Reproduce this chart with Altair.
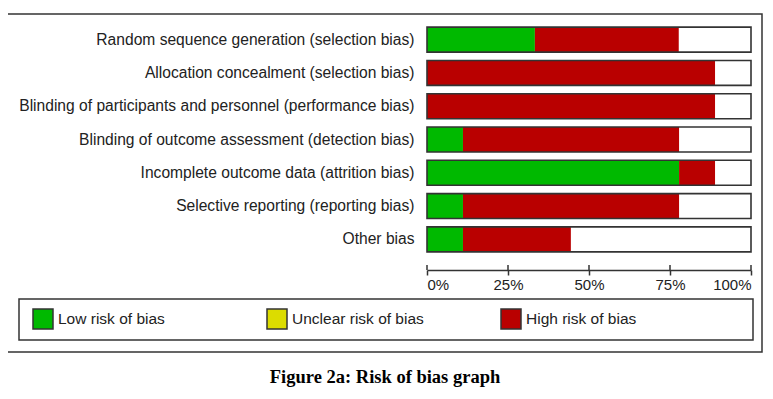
import altair as alt
import pandas as pd

domains = [
    "Random sequence generation (selection bias)",
    "Allocation concealment (selection bias)",
    "Blinding of participants and personnel (performance bias)",
    "Blinding of outcome assessment (detection bias)",
    "Incomplete outcome data (attrition bias)",
    "Selective reporting (reporting bias)",
    "Other bias",
]
judgements = ["Low risk of bias", "Unclear risk of bias", "High risk of bias"]
colors = ["#00B900", "#DCDC00", "#B90000"]
low_pct = [33.3, 0, 0, 11.1, 77.8, 11.1, 11.1]
unclear_pct = [0, 0, 0, 0, 0, 0, 0]
high_pct = [44.4, 88.9, 88.9, 66.7, 11.1, 66.7, 33.3]
tick_values = [0, 25, 50, 75, 100]
fig_title = "Figure 2a: Risk of bias graph"

rows = []
for d, lo, un, hi in zip(domains, low_pct, unclear_pct, high_pct):
    for k, (j, v) in enumerate(zip(judgements, [lo, un, hi])):
        rows.append({"domain": d, "judgement": j, "value": v, "ord": k})
df = pd.DataFrame(rows)
base_df = pd.DataFrame({"domain": domains})
tick_df = pd.DataFrame({"t": tick_values})
one = pd.DataFrame({"a": [0]})

W, H = 324, 233
FONT = "Liberation Sans"

yenc = alt.Y(
    "domain:N",
    sort=domains,
    title="",
    scale=alt.Scale(paddingInner=0.25, paddingOuter=0.125),
    axis=alt.Axis(
        ticks=False, domain=False, labelPadding=13, labelFont=FONT,
        labelFontSize=15.6, labelColor="#222", labelLimit=500,
    ),
)
xscale = alt.Scale(domain=[0, 100], nice=False)

bg = alt.Chart(base_df).mark_bar(color="white").encode(
    y=yenc,
    x=alt.X(datum=0, type="quantitative", scale=xscale),
    x2=alt.datum(100),
)

segs = alt.Chart(df).mark_bar(strokeWidth=0).encode(
    y=yenc,
    x=alt.X(
        "value:Q", stack="zero", scale=xscale, title="",
        axis=alt.Axis(
            values=tick_values, labelExpr="datum.value + '%'", offset=14,
            tickSize=5, tickWidth=1.5, tickColor="#333", domainColor="#333",
            domainWidth=1.5, labelFont=FONT, labelFontSize=15, labelColor="#222",
            labelFlush=True, labelPadding=2, grid=False,
        ),
    ),
    color=alt.Color(
        "judgement:N",
        scale=alt.Scale(domain=judgements, range=colors),
        legend=alt.Legend(
            orient="none", legendX=-395, legendY=285, direction="horizontal",
            columns=3, title=None, symbolType="square", symbolSize=400,
            symbolStrokeColor="#333", symbolStrokeWidth=1.5, symbolOpacity=1,
            labelFont=FONT, labelFontSize=15.5, labelColor="#222", labelOffset=4,
            columnPadding=74, gridAlign="all", padding=0, labelLimit=300,
        ),
    ),
    order=alt.Order("ord:Q"),
)

outline = alt.Chart(base_df).mark_bar(
    fillOpacity=0, stroke="#333", strokeWidth=1.6
).encode(
    y=yenc,
    x=alt.X(datum=0, type="quantitative", scale=xscale),
    x2=alt.datum(100),
)

tick_up = alt.Chart(tick_df).mark_rule(color="#333", strokeWidth=1.5).encode(
    x=alt.X("t:Q", scale=xscale),
    y=alt.value(H + 9),
    y2=alt.value(H + 14),
)

outer_box = alt.Chart(one).mark_rect(
    fillOpacity=0, stroke="#333", strokeWidth=1.5
).encode(
    x=alt.value(-421), x2=alt.value(335), y=alt.value(-9), y2=alt.value(329)
)

legend_box = alt.Chart(one).mark_rect(
    fillOpacity=0, stroke="#333", strokeWidth=1.5
).encode(
    x=alt.value(-408), x2=alt.value(326), y=alt.value(276), y2=alt.value(317)
)

title_txt = alt.Chart(one).mark_text(
    text=fig_title, font="Liberation Serif", fontSize=18.5, fontWeight="bold",
    color="black", align="center", baseline="middle",
).encode(x=alt.value(-42), y=alt.value(354))

chart = alt.layer(
    outer_box, legend_box, bg, segs, outline, tick_up, title_txt
).properties(
    width=W, height=H,
    autosize=alt.AutoSizeParams(type="none"),
    padding={"left": 419, "top": 15, "right": 14, "bottom": 135},
    background="white",
).configure_view(strokeWidth=0)

chart.save("out.html", embed_options={"renderer": "svg", "actions": False})
